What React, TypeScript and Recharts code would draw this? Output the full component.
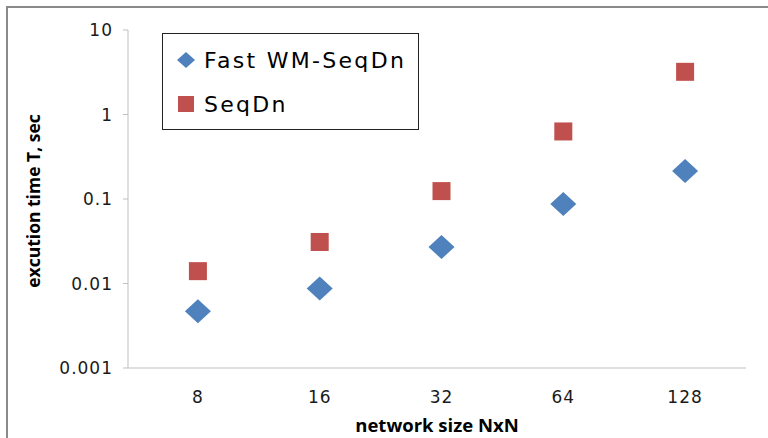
import { ScatterChart, Scatter, XAxis, YAxis, Legend, Label } from 'recharts'

const sizes = ['8', '16', '32', '64', '128']
const fastTimes = [0.0047, 0.0087, 0.027, 0.087, 0.215]
const seqTimes = [0.014, 0.031, 0.124, 0.63, 3.2]
const yTicks = [0.001, 0.01, 0.1, 1, 10]

const fastData = sizes.map((size, i) => ({ size, time: fastTimes[i] }))
const seqData = sizes.map((size, i) => ({ size, time: seqTimes[i] }))

const BLUE = '#4F81BD'
const RED = '#C0504D'
const FONT = '"DejaVu Sans", sans-serif'
const BOLD_FONT = '"Open Sans", sans-serif'

function Diamond(props: any) {
  const { cx, cy } = props
  if (cx == null || cy == null) return null
  return (
    <polygon
      points={`${cx - 13},${cy} ${cx},${cy - 12} ${cx + 13},${cy} ${cx},${cy + 12}`}
      fill={BLUE}
    />
  )
}

function Square(props: any) {
  const { cx, cy } = props
  if (cx == null || cy == null) return null
  return <rect x={cx - 9} y={cy - 9} width={18} height={18} fill={RED} />
}

function renderLegend(props: any) {
  const { payload = [] } = props
  return (
    <div
      style={{
        width: 255,
        height: 91,
        border: '1px solid #222',
        background: '#fff',
        boxSizing: 'content-box',
        paddingTop: 4,
      }}
    >
      {payload.map((entry: any, i: number) => (
        <div
          key={entry.value}
          style={{ display: 'flex', alignItems: 'center', height: 44, marginLeft: 12 }}
        >
          <svg width={26} height={26} style={{ marginRight: 3 }}>
            {i === 0 ? (
              <polygon points="2,13 11,5 20,13 11,21" fill={BLUE} />
            ) : (
              <rect x={3} y={5} width={16} height={16} fill={RED} />
            )}
          </svg>
          <span style={{ fontFamily: FONT, fontSize: 22, letterSpacing: 2.3, color: '#000' }}>
            {entry.value}
          </span>
        </div>
      ))}
    </div>
  )
}

export default function App() {
  return (
    <div
      style={{
        position: 'fixed',
        left: 0,
        top: 0,
        width: 768,
        height: 438,
        background: '#fff',
        overflow: 'hidden',
      }}
    >
      <div
        style={{
          position: 'absolute',
          left: 6,
          top: 6,
          width: 800,
          height: 500,
          border: '2px solid #8a8a8a',
        }}
      />
      <div style={{ position: 'absolute', left: 0, top: 0 }}>
        <ScatterChart width={768} height={438} margin={{ top: 30, right: 22, bottom: 0, left: 0 }}>
          <XAxis
            type="category"
            dataKey="size"
            allowDuplicatedCategory={false}
            height={70}
            padding={{ left: 9, right: 0 }}
            tickLine={false}
            tickMargin={17}
            axisLine={{ stroke: '#BFBFBF' }}
            tick={{ fill: '#1a1a1a', fontSize: 17, fontFamily: FONT, letterSpacing: 1 }}
          >
            <Label
              value="network size NxN"
              position="insideBottom"
              offset={6}
              style={{ fontFamily: BOLD_FONT, fontWeight: 700, fontSize: 18.5, fill: '#000' }}
            />
          </XAxis>
          <YAxis
            type="number"
            dataKey="time"
            scale="log"
            domain={[0.001, 10]}
            ticks={yTicks}
            allowDataOverflow
            width={128}
            tickSize={5}
            tickMargin={10}
            axisLine={{ stroke: '#BFBFBF' }}
            tickLine={{ stroke: '#BFBFBF' }}
            tick={{ fill: '#1a1a1a', fontSize: 17, fontFamily: FONT, letterSpacing: 1 }}
          >
            <Label
              value="excution time T, sec"
              angle={-90}
              position="center"
              dx={-30}
              dy={2}
              style={{ fontFamily: BOLD_FONT, fontWeight: 700, fontSize: 17.5, fill: '#000', textAnchor: 'middle' }}
            />
          </YAxis>
          <Legend
            layout="vertical"
            align="center"
            verticalAlign="middle"
            content={renderLegend}
            wrapperStyle={{ left: 162, top: 33, width: 257, height: 96 }}
          />
          <Scatter name="Fast WM-SeqDn" data={fastData} shape={Diamond} isAnimationActive={false} />
          <Scatter name="SeqDn" data={seqData} shape={Square} isAnimationActive={false} />
        </ScatterChart>
      </div>
    </div>
  )
}
